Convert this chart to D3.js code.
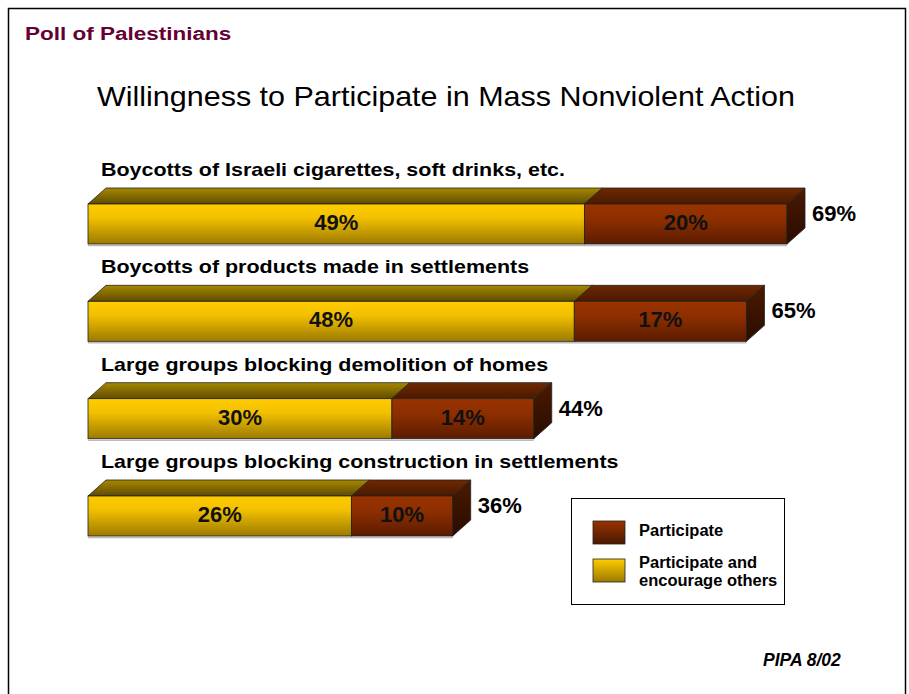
<!DOCTYPE html>
<html>
<head>
<meta charset="utf-8">
<script src="https://cdn.jsdelivr.net/npm/d3@7"></script>
<style>
  html, body { margin: 0; padding: 0; background: #fff; }
  svg { display: block; font-family: "Liberation Sans", Arial, sans-serif; }
</style>
</head>
<body>
<div id="root"></div>
<script>
// chart values
const categories = [
    "Boycotts of Israeli cigarettes, soft drinks, etc.",
    "Boycotts of products made in settlements",
    "Large groups blocking demolition of homes",
    "Large groups blocking construction in settlements"
];
const encourageValues = [49, 48, 30, 26];   // Participate and encourage others
const participateValues = [20, 17, 14, 10]; // Participate
const totalValues = [69, 65, 44, 36];
const seriesNames = ["Participate", "Participate and encourage others"];

document.addEventListener("DOMContentLoaded", () => {
    const width = 909;
    const height = 694;

    const svg = d3.select("#root").append("svg")
        .attr("width", width)
        .attr("height", height);

    const defs = svg.append("defs");
    const grad = (id, stops) => {
        const g = defs.append("linearGradient").attr("id", id)
            .attr("x1", 0).attr("y1", 0).attr("x2", 0).attr("y2", 1);
        stops.forEach(s => g.append("stop").attr("offset", s[0]).attr("stop-color", s[1]));
    };
    grad("yFront", [[0, "#ffcc00"], [0.35, "#f2c000"], [1, "#9c7a00"]]);
    grad("yTop", [[0, "#a88800"], [1, "#5f4b00"]]);
    grad("rFront", [[0, "#9a3300"], [0.4, "#8c2e00"], [1, "#5a1c00"]]);
    grad("rTop", [[0, "#702800"], [1, "#4a1900"]]);
    grad("rSide", [[0, "#4a1a00"], [1, "#2a0c00"]]);
    grad("yLeg", [[0, "#ffcc00"], [1, "#9c7a00"]]);
    grad("rLeg", [[0, "#993300"], [1, "#4a1800"]]);

    // stretched text helper (the source slide is wider than its fonts)
    const stretchText = (parent, x, y, sx, size, txt) => parent.append("text")
        .attr("transform", `translate(${x},${y}) scale(${sx},1)`)
        .style("font-size", size + "px")
        .text(txt);

    // frame
    svg.append("rect")
        .attr("x", 8.5).attr("y", 8.5)
        .attr("width", 897).attr("height", 700)
        .attr("fill", "none").attr("stroke", "#000").attr("stroke-width", 1.5);

    stretchText(svg, 25, 40, 1.25, 18, "Poll of Palestinians")
        .style("font-weight", "bold")
        .attr("fill", "#660033");

    stretchText(svg, 97, 106, 1.07, 28.5, "Willingness to Participate in Mass Nonviolent Action")
        .attr("fill", "#000");

    const x = d3.scaleLinear().domain([0, 69]).range([88, 787]);
    const y = d3.scalePoint().domain(categories).range([204, 496]);
    const barH = 40, dx = 18, dy = 16;

    const rows = categories.map((c, i) => ({
        cat: c,
        segs: [
            { v0: 0, v1: encourageValues[i], val: encourageValues[i], front: "url(#yFront)", top: "url(#yTop)" },
            { v0: encourageValues[i], v1: encourageValues[i] + participateValues[i], val: participateValues[i], front: "url(#rFront)", top: "url(#rTop)" }
        ],
        total: totalValues[i]
    }));

    const row = svg.selectAll(".row")
        .data(rows)
        .enter().append("g")
        .attr("class", "row");

    row.each(function (d) {
        const g = d3.select(this);
        const yt = y(d.cat);
        stretchText(g, 101, yt - 28, 1.13, 19, d.cat)
            .style("font-weight", "bold")
            .attr("fill", "#000");
        // shadow line
        g.append("line")
            .attr("x1", x(0)).attr("x2", x(d.segs[1].v1))
            .attr("y1", yt + barH + 1.5).attr("y2", yt + barH + 1.5)
            .attr("stroke", "#bbb").attr("stroke-width", 1.5);
        d.segs.forEach(s => {
            const a = x(s.v0), b = x(s.v1);
            g.append("polygon")
                .attr("points", [[a, yt], [a + dx, yt - dy], [b + dx, yt - dy], [b, yt]].join(" "))
                .attr("fill", s.top).attr("stroke", "#222").attr("stroke-width", 0.8)
                .attr("stroke-linejoin", "round");
        });
        d.segs.forEach(s => {
            const a = x(s.v0), b = x(s.v1);
            g.append("rect")
                .attr("x", a).attr("y", yt)
                .attr("width", b - a).attr("height", barH)
                .attr("fill", s.front).attr("stroke", "#222").attr("stroke-width", 0.8);
            g.append("text")
                .attr("x", (a + b) / 2).attr("y", yt + 26)
                .attr("text-anchor", "middle")
                .style("font-size", "22px").style("font-weight", "bold")
                .attr("fill", "#111")
                .text(s.val + "%");
        });
        const e = x(d.segs[1].v1);
        g.append("polygon")
            .attr("points", [[e, yt], [e + dx, yt - dy], [e + dx, yt + barH - dy], [e, yt + barH]].join(" "))
            .attr("fill", "url(#rSide)").attr("stroke", "#222").attr("stroke-width", 0.8)
            .attr("stroke-linejoin", "round");
        g.append("text")
            .attr("x", e + dx + 7).attr("y", yt + 17)
            .style("font-size", "22px").style("font-weight", "bold")
            .attr("fill", "#000")
            .text(d.total + "%");
    });

    // legend
    const leg = svg.append("g").attr("transform", "translate(571,498)");
    leg.append("rect")
        .attr("x", 0.5).attr("y", 0.5).attr("width", 213).attr("height", 106)
        .attr("fill", "#fff").attr("stroke", "#000").attr("stroke-width", 1);
    const legItems = [
        { name: seriesNames[0], fill: "url(#rLeg)", y: 23, lines: ["Participate"] },
        { name: seriesNames[1], fill: "url(#yLeg)", y: 61, lines: ["Participate and", "encourage others"] }
    ];
    legItems.forEach(it => {
        leg.append("rect")
            .attr("x", 22).attr("y", it.y).attr("width", 32).attr("height", 23)
            .attr("fill", it.fill).attr("stroke", "#222").attr("stroke-width", 0.8);
        it.lines.forEach((l, k) => {
            const by = it.lines.length === 1 ? it.y + 15 : it.y + 9 + k * 18;
            stretchText(leg, 68, by, 1.03, 16, l)
                .style("font-weight", "bold")
                .attr("fill", "#000");
        });
    });

    stretchText(svg, 763, 666, 1.0, 17.5, "PIPA 8/02")
        .style("font-weight", "bold").style("font-style", "italic")
        .attr("fill", "#000");
});
</script>
</body>
</html>
